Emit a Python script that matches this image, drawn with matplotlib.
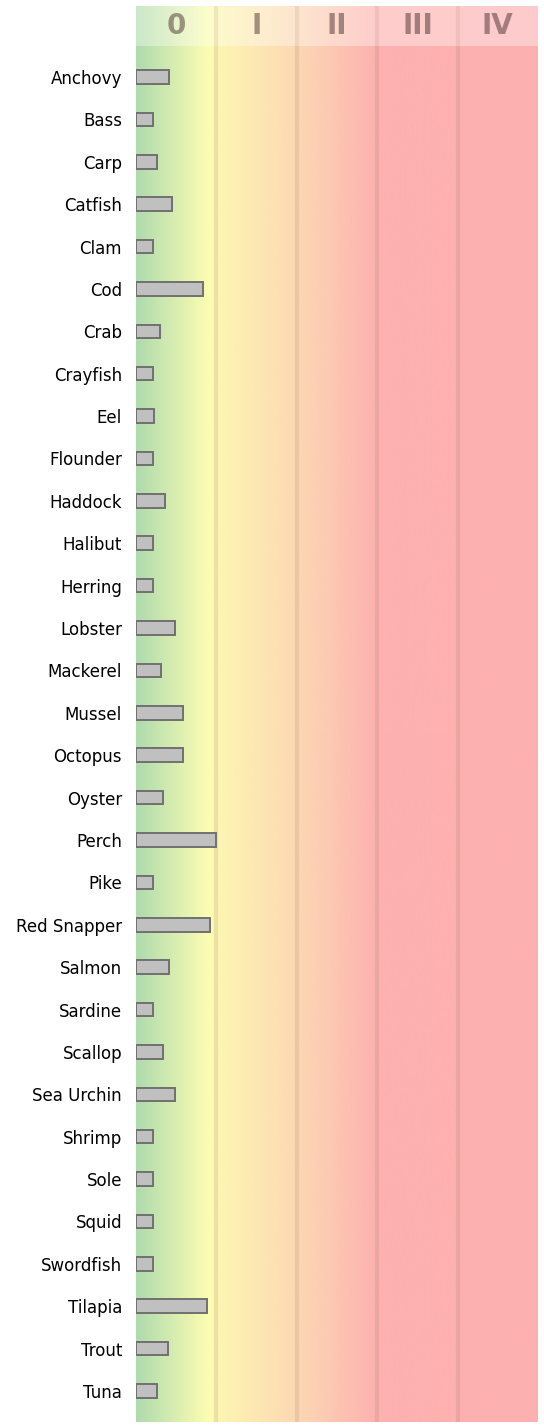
import numpy as np
import matplotlib
matplotlib.use('Agg')
import matplotlib.pyplot as plt
from matplotlib.colors import LinearSegmentedColormap

species = ['Anchovy', 'Bass', 'Carp', 'Catfish', 'Clam', 'Cod', 'Crab', 'Crayfish',
           'Eel', 'Flounder', 'Haddock', 'Halibut', 'Herring', 'Lobster', 'Mackerel',
           'Mussel', 'Octopus', 'Oyster', 'Perch', 'Pike', 'Red Snapper', 'Salmon',
           'Sardine', 'Scallop', 'Sea Urchin', 'Shrimp', 'Sole', 'Squid', 'Swordfish',
           'Tilapia', 'Trout', 'Tuna']
values = [0.41, 0.21, 0.26, 0.45, 0.21, 0.83, 0.30, 0.21,
          0.23, 0.21, 0.36, 0.21, 0.21, 0.48, 0.31,
          0.59, 0.58, 0.33, 1.00, 0.21, 0.925, 0.41,
          0.21, 0.33, 0.48, 0.21, 0.21, 0.21, 0.21,
          0.88, 0.40, 0.26]
classes = ['0', 'I', 'II', 'III', 'IV']

ncls = len(classes)
# background gradient: green -> yellow -> orange -> red
cmap = LinearSegmentedColormap.from_list('risk', [
    (0.0, '#b0dbae'),
    (0.9 / ncls, '#fdfdb2'),
    (1.0 / ncls, '#fdf6b2'),
    (2.0 / ncls, '#fdd8b4'),
    (3.0 / ncls, '#fdb2b0'),
    (1.0, '#fdb0b0'),
])
grad = np.linspace(0, 1, 600).reshape(1, -1)

W, H = 544, 1425
fig = plt.figure(figsize=(W / 100, H / 100), dpi=100)

left, right = 136, 538
top_hdr, bot_hdr = 6, 46
bottom = 1422

# header
hax = fig.add_axes([left / W, 1 - bot_hdr / H, (right - left) / W, (bot_hdr - top_hdr) / H])
hax.imshow(grad, cmap=cmap, aspect='auto', extent=(0, ncls, 0, 1))
hax.axhspan(0, 1, color='white', alpha=0.35, lw=0)
for i in range(1, ncls):
    hax.axvline(i, color='#8a6a50', alpha=0.12, lw=3)
for i, c in enumerate(classes):
    hax.text(i + 0.5, 0.5, c, ha='center', va='center', fontsize=20, fontweight='bold',
             color='#4a3030', alpha=0.5)
hax.set_xlim(0, ncls)
hax.set_ylim(0, 1)
hax.axis('off')

# main axes
ax = fig.add_axes([left / W, 1 - bottom / H, (right - left) / W, (bottom - bot_hdr) / H])
n = len(species)
ax.imshow(grad, cmap=cmap, aspect='auto', extent=(0, ncls, n - 0.27, -0.73), zorder=0)
for i in range(1, ncls):
    ax.axvline(i, color='#8a6a50', alpha=0.15, lw=3, zorder=1)
y = np.arange(n)
ax.barh(y, values, height=0.32, color='#c0c0c0', edgecolor='#707070', linewidth=1.4, zorder=2)
ax.set_xlim(0, ncls)
ax.set_ylim(n - 0.27, -0.73)
ax.set_yticks(y)
ax.set_yticklabels(species, fontsize=12)
ax.tick_params(axis='y', length=0, pad=10)
ax.set_xticks([])
for s in ax.spines.values():
    s.set_visible(False)

fig.savefig('out.png', dpi=100)
